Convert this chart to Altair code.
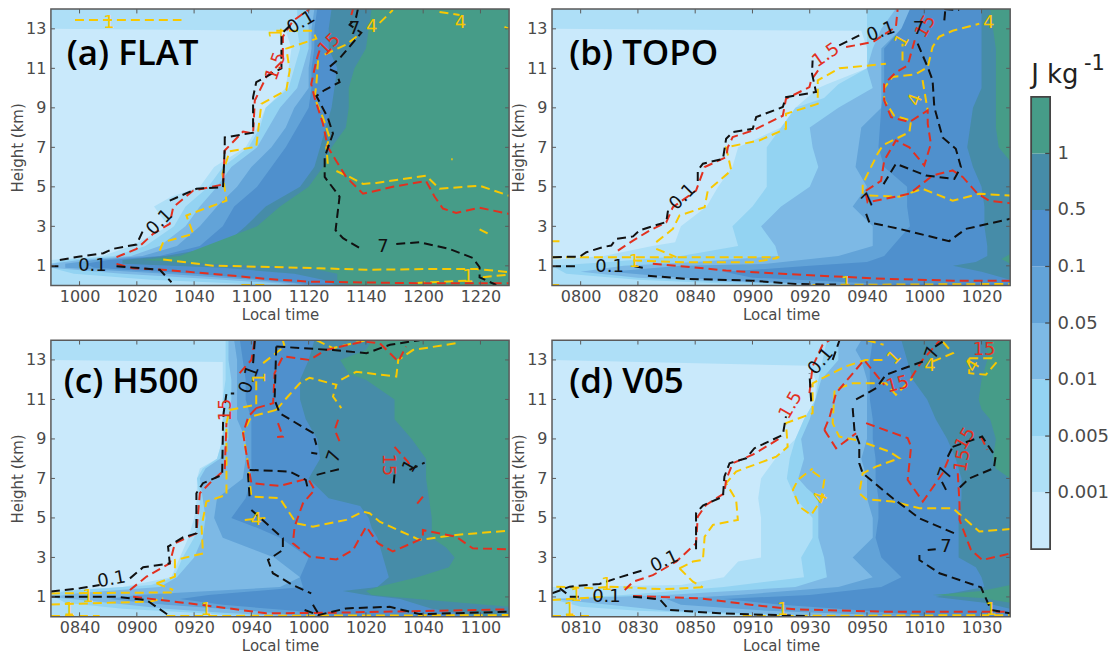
import altair as alt
import pandas as pd

# Shared style values
LEVEL_COLORS = ["#c9e9fb", "#aedff7", "#93d3f2", "#7db9e5", "#62a3d8", "#4f90cd", "#468ca8", "#469c88"]
LINE_COLORS = {"k": "#111111", "r": "#e2301f", "y": "#f8c800"}
CBAR_LABELS = ["", "0.001", "0.005", "0.01", "0.05", "0.1", "0.5", "1"]
X_TICKS = [10, 30, 50, 70, 90, 110, 130, 150]
Y_TICKS = [1, 3, 5, 7, 9, 11, 13]

A_TIMES = ["1000", "1020", "1040", "1100", "1120", "1140", "1200", "1220"]
B_TIMES = ["0800", "0820", "0840", "0900", "0920", "0940", "1000", "1020"]
C_TIMES = ["0840", "0900", "0920", "0940", "1000", "1020", "1040", "1100"]
D_TIMES = ["0810", "0830", "0850", "0910", "0930", "0950", "1010", "1030"]

# Filled contours: each level is (height km, minutes from the panel's left edge)
A_LEVELS = [
    [(14,0),(13,0),(12.9,82),(12,84),(10,82),(9,75),(8,72),(7,68),(6,57),(5,52),(4.5,42),(4,36),(3,41),(2,28),(1.5,18),(1.3,0),(0,0)],
    [(14,86),(13,86),(12,87),(11,85),(10,83),(9,75),(8,73),(7,69),(6,60),(5,55),(4,47),(3,43),(2,33),(1.5,22),(1.3,5),(1.1,0),(0.9,0),(0.6,8),(0.3,35),(0.1,65),(0,75)],
    [(14,90),(13,90),(12,90),(11,88),(10,86),(9,80),(8,76),(7,72),(6,63),(5,58),(4,52),(3,47),(2,38),(1.5,28),(1.3,10),(1.1,0),(0.9,0),(0.6,25),(0.3,60),(0.1,80),(0,85)],
    [(14,92),(13,91),(12,91),(11,90),(10,90),(9,85),(8,82),(7,77),(6,70),(5,65),(4,58),(3,52),(2,44),(1.5,32),(1.3,15),(1.1,5),(0.9,5),(0.6,40),(0.3,70),(0.1,85),(0,90)],
    [(14,93),(13,92),(12,92),(11,91),(10,91),(9,90),(8,86),(7,82),(6,77),(5,72),(4,64),(3,60),(2,52),(1.5,38),(1.3,20),(1.1,12),(0.9,15),(0.6,50),(0.3,75),(0.1,88),(0,95)],
    [(14,98),(13,97),(12,97),(11,100),(10,99),(9,98),(8,96),(7,94),(6,92),(5,87),(4,75),(3,68),(2,60),(1.5,40),(1.3,25),(1.1,25),(0.9,60),(0.6,85),(0.3,95),(0,100)],
    [(14,112),(13,111),(12,110),(11,106),(10,104),(9,104),(8,103),(7,98),(6,95),(5,90),(4,80),(3,72),(2,54),(1.5,45),(1.3,32),(1.1,55),(0.9,90),(0.6,100),(0.3,100),(0,105)],
]
B_LEVELS = [
    [(14,0),(13,0),(12.9,108),(12,110),(11,110),(10.2,96),(10,93),(9,85),(8,80),(7,65),(6,63),(5,58),(4,54),(3,45),(2.2,43),(2,35),(1.5,18),(1.3,0),(0,0)],
    [(14,110),(13,110),(12,110),(11,110),(10.2,100),(9.5,95),(9,85),(8,80),(7,75),(6,75),(5,75),(4,70),(3,63),(2,65),(1.5,45),(1.2,20),(1,0),(0.6,5),(0.3,30),(0.1,60),(0,80)],
    [(14,120),(13,115),(12,112),(11,110),(10,112),(9,100),(8,90),(7,91),(6,93),(5,90),(4,80),(3,73),(2,78),(1.5,79),(1.2,50),(1,25),(0.7,10),(0.4,30),(0.2,60),(0.1,80),(0,100)],
    [(14,127),(13,122),(12,115),(11,115),(10,115),(9,115),(8,108),(7,107),(6,106),(5,110),(4,105),(3,112),(2,112),(1.5,100),(1.1,75),(1,45),(0.7,20),(0.4,45),(0.2,70),(0.1,90),(0,110)],
    [(14,125),(13,122),(12,116),(10,116),(9,115),(7,114),(6,116),(5,124),(4,124),(3,125),(2,119),(1.5,116),(1.2,110),(1,90),(0.7,60),(0.4,70),(0.2,100),(0,125)],
    [(14,150),(12,150),(10,150),(9,147),(8,146),(7,145),(6,147),(5,150),(4,151),(3,151),(2,152),(1.5,152),(1.2,148),(1,140),(0.7,150),(0.3,160),(0,160)],
    [(14,153),(12,155),(10,155),(9,155),(8,155),(7,156),(6.3,160),(1.6,160),(1.35,157),(1.1,160),(0,160)],
]
C_LEVELS = [
    [(14,0),(13,0),(12.9,60),(12,60),(10,60),(9,60),(8,58),(7.5,52),(7,51),(6,51),(5,50),(4,48),(3,45),(2,42),(1.5,25),(1.3,0),(0,0)],
    [(14,61),(13,61),(12,61),(11,60),(10,60),(9,60),(8,58),(7.5,53),(7,51),(6,52),(5,52),(4,50),(3,46),(2,43),(1.6,35),(1.3,5),(1.1,0),(0.7,5),(0.4,25),(0.2,50),(0,70)],
    [(14,62),(13,62),(12,63),(11,63),(10,62),(9,62),(8,59),(7.5,54),(7,52),(6,53),(5,54),(4,53),(3,50),(2,44),(1.5,38),(1.2,10),(1,0),(0.7,20),(0.4,40),(0.2,60),(0,85)],
    [(14,64),(13,65),(12,65),(11,65),(10,65),(9,68),(8,68),(7,67),(6,58),(5,57),(4,60),(3,78),(2,87),(1.5,80),(1.1,30),(0.9,20),(0.6,40),(0.3,70),(0,90)],
    [(14,66),(12,68),(11,68),(10,70),(9,70),(8,70),(7,70),(6,68),(5,63),(4.5,72),(4,80),(3,90),(2,87),(1.5,88),(1.1,55),(0.9,45),(0.6,60),(0.3,85),(0,100)],
    [(14,92),(13,90),(12,87),(11,87),(10,89),(9,93),(8,94),(7,90),(6,97),(5.6,108),(5,111),(4.5,112),(4,114),(3,116),(2,118),(1.5,114),(1.3,102),(1.1,110),(0.9,122),(0.4,133),(0,150)],
    [(14,112),(13.5,110),(13,101),(12.3,104),(12,110),(11,120),(10,120),(9,126),(8,131),(7,131),(6,132),(5,133),(4,133),(3.5,138),(3,141),(2.5,139),(2,128),(1.5,114),(1.3,110),(1.1,112),(0.9,128),(0.5,160),(0,160)],
]
D_LEVELS = [
    [(14,0),(13,0),(12.7,90),(12,92),(11,92),(10,88),(9,85),(8,78),(7,73),(6,72),(5,73),(4,73),(3,73),(2.8,65),(2,60),(1.6,45),(1.5,0),(0,0)],
    [(14,96),(12,93),(11,92),(10,88),(9,85),(8,83),(7,82),(6,85),(5,91),(4,91),(3,87),(2,88),(1.5,60),(1.1,25),(0.9,0),(0.5,10),(0.3,30),(0.1,70),(0,90)],
    [(14,100),(13,100),(12,94),(11,92),(10,90),(9,87),(8,88),(7,86),(6.5,89),(6,93),(5,93),(4,93),(3,95),(2,96),(1.5,85),(1.1,40),(0.9,0),(0.6,20),(0.3,40),(0.1,85),(0,110)],
    [(14,108),(13.5,106),(13,108),(12,110),(11,110),(10,110),(9,110),(8,108),(7,110),(6,110),(5,112),(4,112),(3,105),(2,112),(1.5,100),(1.1,65),(0.9,40),(0.6,45),(0.3,75),(0,130)],
    [(14,112),(13,111),(12,111),(11,111),(10,112),(9,112),(8,113),(7,113),(6,114),(5,114),(4,113),(3,115),(2,122),(1.5,115),(1.1,90),(0.9,60),(0.6,80),(0.3,110),(0,135)],
    [(14,122),(13,124),(12,126),(11,131),(10,134),(9,138),(8,141),(7,143),(6,143),(5,142),(4,142),(3,142),(2.5,148),(2,150),(1.5,151),(1.2,140),(1,134),(0.7,151),(0.4,160),(0,160)],
    [(14,152),(13,152),(12,150),(11,149),(10.5,150),(10,153),(9,155),(8,154),(7.5,155),(7,160),(2.2,160),(1.6,160),(1.3,150),(1.1,133),(0.95,150),(0.7,160),(0,160)],
]

# Dashed contour lines: (minutes, height km)
A_BLACK = [
    [(3.1,1.3),(10.1,1.47),(18.3,1.64),(21.7,1.86),(29.9,2.08),(32.2,2.8)],
    [(41.5,4.3),(50.8,4.9),(60.1,4.98),(60.7,7),(60.7,7.5),(70.6,7.74),(70.6,9.54),(71.7,10.3),(80.5,11),(80.5,12.75),(84.5,13.3)],
    [(107.2,14),(106.6,13.6),(104.3,13.2),(108.4,12.8),(100.8,11.5),(96.7,11),(99.7,10.8),(100.8,10.3),(95.6,9.9),(92.7,9.6),(96.7,8.5),(98.5,7.7),(95.6,6.5),(95.6,5.5),(100.8,4.5),(99.4,2.8),(102,2.4),(109,1.8)],
    [(120.6,2.1),(128.7,2.2),(139.2,1.85),(147.3,1.4),(149.7,0.93),(149.7,0.42),(155.5,0.03)],
    [(0,0.98),(2.6,0.98)],
    [(22.9,0.98),(38,0.8),(42.1,0.17)],
]
A_RED = [
    [(22.9,1.44),(29.9,1.86),(35.7,2.62),(41.5,3.13),(42.7,3.97),(49.7,4.81),(60.1,5.12),(60.7,6.84),(67.1,7.8),(70.6,7.7),(71.2,9.37),(75.2,10.56),(81,11.4),(81,12.6),(84.5,13.4),(90.3,14)],
    [(105.5,14),(104.9,13.7)],
    [(93.8,11.9),(92.7,11.4),(90.9,10.2),(92.1,9.5),(95,8.2),(96.7,7),(99.7,6.3),(103.1,5.5),(109,4.65),(119.4,5),(131,5.3),(134,4.5),(136.9,3.9),(141.5,3.68),(149.7,3.94),(160,3.63)],
    [(22.9,1.1),(28.7,0.88),(40.3,0.79),(56.6,0.59),(75.2,0.34),(90.3,0.2),(127.6,0.12),(160,0.12)],
]
A_GOLD = [
    [(8.4,13.45),(45.6,13.45)],
    [(38,1.77),(39.2,2.2),(49.7,2.62),(47.3,3.55),(61.3,4.3),(59.9,5.66),(62.4,6.8),(71.7,7.03),(73.5,9.2),(82.2,9.9),(83.4,10.9),(82.2,12),(92.7,12.5),(91.5,12.9),(78.7,12.9)],
    [(95.6,11.7),(103.1,12.2),(108.4,12.8)],
    [(114.8,13.3),(119.4,13.95)],
    [(135.7,13.85),(142.7,13.7)],
    [(158.4,13.1),(160,13)],
    [(93.3,11.4),(92.7,10.2),(92.1,9.5),(95,8.5),(97.3,7.5),(96.2,7),(96.7,6.15)],
    [(99.7,5.8),(104.3,5.5),(109,5.15),(113.6,5.2),(131,5.56),(135.7,4.9),(149.7,5.06),(160,4.55)],
    [(149.7,2.85),(153.1,2.6)],
    [(139.8,6.4),(140.3,6.4)],
    [(39.2,1.32),(56.6,1.01),(93.8,0.88),(110,0.8),(133.4,0.84),(148.5,0.84),(160,0.68)],
    [(66.5,0.03),(75,0.03)],
    [(127.6,0.13),(145,0.25)],
    [(150.8,0.42),(160,0.56)],
]
A_TEXT = [
    ("0.1",38,3.2,315,"k"),("0.1",14.5,0.98,0,"k"),("1.5",78.7,11.1,290,"r"),("0.1",87.4,13.3,330,"k"),
    ("15",97.3,12.2,315,"r"),("7",116,1.95,0,"k"),("7",106,13,0,"k"),("4",112,13.1,0,"y"),("4",143,13.3,0,"y"),
    ("1",20.3,13.3,0,"y"),("1",79,12.8,270,"y"),("1",145.6,0.42,0,"y"),
]

B_BLACK = [
    [(0.3,1.44),(9.7,1.47),(12,1.69),(17.8,1.95),(20.7,2.03),(22.4,2.37),(28.3,2.49),(30.6,2.8),(39.9,3.22),(40.5,3.8)],
    [(50.9,5.3),(50.9,5.83),(52.7,6.17),(59.7,6.42),(60.8,7.43),(63.1,7.77),(70.1,7.94),(71.3,8.53),(80.6,9.04),(81.7,9.54),(92.2,9.8),(90.8,10.73),(91,11.4)],
    [(100.3,12.16),(107.3,12.67)],
    [(137,14),(142.2,13.95)],
    [(137,13.43),(137.3,13.9)],
    [(127.7,12.25),(131.2,11.06),(132.9,10.4),(133.5,9.04),(136.4,7.5),(141,6.93),(142.8,6),(140.5,5.4),(130.6,5.57),(120.1,6.17),(115.5,5.07)],
    [(109.7,3.63),(110.8,3.2),(121.3,2.87),(138.7,2.25),(144.5,2.87),(160,3.38)],
    [(0,0.98),(9,0.98)],
    [(28.8,0.98),(31.7,0.9)],
    [(33.5,0.5),(46.9,0.34),(70,0.25),(85,0.08),(99.2,0.05)],
]
B_RED = [
    [(23,1.77),(28.3,2.28),(34.1,2.79),(39.9,3.2),(42.2,3.97),(50.3,4.81),(53.3,6),(60.8,6.5),(61.4,7),(63.1,7.52),(70.1,7.85),(80.6,8.6),(81.7,9.46),(89.9,10.05),(90.5,10.39),(93.4,11)],
    [(102.7,12.08),(112,12.33),(120.1,13.1),(120.7,14)],
    [(109.6,4.65),(110.2,4.22),(116.6,4.4),(124.8,4.65),(130,5.24),(132.9,5.57),(139.9,5.83),(143.4,5.5),(148.6,4.65),(152.7,4.3),(160,4.17)],
    [(109.6,4.8),(114.9,5.3),(116,6.33),(120.1,7.35),(124.8,7),(130,6.08),(132.3,7.18),(131.2,8.2),(131.2,8.87),(124.8,8.28),(118.4,8.53),(116,9.38),(116,10.2),(120.1,10.8),(124.2,11.15),(127,12.6)],
    [(35.2,1.1),(49.2,0.93),(60.8,0.76),(81.7,0.59),(99.2,0.46),(116.6,0.34),(139.9,0.25),(160,0.25)],
]
B_GOLD = [
    [(36.4,2.2),(42.2,2.87),(44.5,3.55),(53.3,3.97),(54.4,4.81),(62.6,5.83),(60.8,7),(72.4,7.35),(81.7,7.94),(81.7,8.7),(92.8,9.2),(92.8,10.39),(100.3,11),(116.6,11.23)],
    [(122.4,11.4),(122.4,12.25)],
    [(108.5,4.65),(108.5,5.15),(113.7,6.67),(115.5,7.1),(124.8,7.77),(125.4,8.36),(119.5,8.6),(116,9.4),(116,10),(118.9,10.56),(127,10.7),(131.2,11.06),(132.9,12.08),(135.2,12.6),(139.9,12.9),(149.2,13.26)],
    [(129.4,10.4),(131.2,8.87)],
    [(110.8,4.56),(121.3,4.5),(129.4,4.9),(139.9,4.3),(149.2,4.65),(160,4.56)],
    [(0,1.44),(79.4,1.44)],
    [(0,2.25),(2.6,2.25)],
    [(28.3,1.27),(46.9,1.18),(70.1,1.18),(78.8,1.4)],
    [(36.4,1.86),(43.4,1.44)],
    [(0,0.03),(2.5,0.03)],
    [(91,0.03),(160,0.08)],
]
B_TEXT = [
    ("0.1",45.7,4.48,315,"k"),("0.1",20.1,0.93,0,"k"),("0.1",114.9,12.84,340,"k"),("1.5",95.7,11.65,325,"r"),
    ("15",130.6,13.1,300,"r"),("7",110.8,4.3,315,"k"),("7",128,13,0,"k"),("4",127,9.4,290,"y"),("4",152.5,13.3,0,"y"),
    ("1",122.4,12.4,300,"y"),("1",102.7,0.1,0,"y"),("1",28.8,1.18,0,"y"),
]

C_BLACK = [
    [(0,1.27),(10.1,1.44),(17,1.6)],
    [(27.6,1.94),(32.2,2.5),(41.5,2.7),(40.9,3.55),(46.2,4.02),(50.8,4.22),(50.8,6.25),(53.1,6.76),(59.8,7.18),(60.1,9.8),(60.3,10.3),(61.3,11.3),(64,11.3)],
    [(70.6,12.84),(71.2,14)],
    [(78.7,13.68),(78.1,10.98),(79.9,10.3),(91.5,9.3),(92.7,8.7)],
    [(90.9,8.3),(93,8.25)],
    [(92.8,7.18),(101.4,7.5)],
    [(69.4,7.43),(83.4,7.35),(89,6.93),(89.8,6.42)],
    [(68.8,7.26),(69.4,6)],
    [(70,5.4),(81,3.97),(81,3.38),(75.8,2.87),(77.5,2.2),(84.5,1.6),(90.9,1.18)],
    [(78.7,13.68),(98.5,13.5),(110.2,13.34),(118.4,13.77),(128.7,14)],
    [(88.6,0.34),(93.3,0.08),(103.1,0.42),(118.3,0.5),(128.7,0.13),(160,0.25)],
    [(91.5,0.6),(93.3,0.17)],
    [(0,1.01),(22.9,1.01),(33.4,0.84),(41.5,0.03)],
    [(125.2,7.43),(130.5,7.8)],
    [(120,7.2),(119.6,6.6)],
]
C_RED = [
    [(27.6,1.35),(33.4,2.03),(41.5,2.7),(43.3,3.72),(50.8,4.22),(52,6.25),(56.6,6.93),(60.7,7.43),(61.3,9.8)],
    [(65.9,12.33),(70,13),(71.2,14)],
    [(71.7,10.56),(69,10.14),(67.1,9.3),(68.8,7.77),(70,6.76),(79.9,6.62),(89.8,7),(92.1,6.42),(88,5.74),(85.1,4.56),(84.5,3.72),(90.3,3.04),(99.7,2.9),(105.5,3.38),(110.1,4.56),(114.2,3.72),(119.4,3.3),(129.9,3.97),(129.9,4.39),(141.5,4.05),(147.3,3.46),(160,3.41)],
    [(71.7,10.56),(77.6,10.81),(78.1,12.33),(81,13.18),(90.3,13),(96,13.5),(109,13.93),(114.8,13.85),(121.3,12.92),(124,13.68)],
    [(100.3,9.97),(99.1,9.46),(100.8,8.87)],
    [(79.3,9.8),(81,9.12),(79,9.1)],
    [(120,8.6),(124.6,7.85),(126.4,7.43)],
    [(129.9,6.08),(127,5.57)],
    [(28.7,1.01),(46.2,0.71),(57.8,0.5),(75.2,0.17),(98.5,0.2),(133.4,0.3),(160,0.37)],
]
C_GOLD = [
    [(36.9,1.69),(43.3,2.03),(43.3,2.87),(53.1,3.2),(52.6,4.56),(54.3,5.83),(61.3,6.17),(61.3,9.8),(62.4,10.47),(71.7,10.73),(71.7,12)],
    [(74.1,12.84),(81.6,13.68),(81,14)],
    [(78.7,10.47),(70,10.14),(67.1,9.3),(68.8,7.77),(70,6.08),(79.9,6),(85.7,4.73),(91.5,4.56),(103.1,4.9),(108.9,5.32),(111.3,5.24),(114.8,4.81),(128.7,3.89),(141.5,4.14),(160,4.36)],
    [(78.7,10.47),(82.2,11.06),(86.9,11.82),(90.3,12.1),(99.7,11.74),(98.5,11.15),(101.4,10.56)],
    [(101.4,12),(106.6,12.4),(120.6,12.16),(121.3,13),(126.4,13.5),(141.5,13.85)],
    [(92.7,14),(98.5,13.6),(110.2,14)],
    [(67.7,4.9),(74.9,5)],
    [(0,1.18),(43.8,1.23)],
    [(0,0.62),(34.5,0.76),(39.2,0.93)],
    [(0,0.03),(17,0.03)],
    [(40.3,0.03),(160,0.08)],
    [(36.9,1.69),(42.7,1.35)],
]
C_TEXT = [
    ("0.1",21.2,1.86,350,"k"),("0.1",69.4,12,290,"k"),("15",61.3,10.47,270,"r"),("15",117.7,7.69,90,"r"),
    ("7",99,8.1,290,"k"),("1",125.5,7.6,300,"k"),("1",13,1.01,0,"y"),("1",6.4,0.35,0,"y"),("1",54.3,0.35,0,"y"),
    ("1",73,12.1,270,"y"),("4",71.7,4.9,0,"y"),
]

D_BLACK = [
    [(0,1.18),(6.2,1.52),(16.6,1.66),(22.4,1.94),(32.9,2.4)],
    [(50.3,3.41),(50.3,5.24),(52.7,5.63),(59.7,6.08),(60.2,7.09),(62,7.77),(67.8,8.02),(70.7,8.53),(80.6,9.2),(81.7,10.14)],
    [(90.5,10.9),(89.9,12.33)],
    [(98,13),(100.4,14)],
    [(105,10.56),(105.6,9.46),(107.3,8.78),(107.3,7.77),(108.5,7.26),(119,6),(128.3,4.98),(140.5,4.22)],
    [(106.2,11),(113.2,11.57),(116.6,12.25),(129.5,12.92)],
    [(136.4,13.93),(133,13.6)],
    [(131.2,3.38),(134,3.42)],
    [(128.3,3.12),(128.3,2.87),(135.3,2.2),(149.8,1.49),(153.3,0.34),(160,0.17)],
    [(139.9,8.6),(150.2,9.12),(154.9,8.1),(154.3,7.52),(145.7,7),(142.1,6.5)],
    [(137.6,6.42),(135.8,6.93)],
    [(138.2,8.1),(139.9,8.6)],
    [(6.2,1.01),(10.8,1.01)],
    [(28.3,1.01),(37.6,0.88),(41,0.34),(58.5,0.17),(89.9,0.03)],
    [(2.7,1.44),(5,1.18)],
]
D_RED = [
    [(25.4,1.35),(28.3,1.77),(35.2,2.1),(43.4,2.79),(50.3,3.72),(50.9,5.07),(53.8,5.66),(60.2,6.25),(60.8,6.93),(63.1,7.77),(70.1,8.2),(80.6,9.12)],
    [(89.9,11.32),(91,12.67),(94.5,13.77),(96.9,14)],
    [(95.1,9.46),(99.2,8.53),(106.2,9.29)],
    [(109.7,9.8),(124.2,9.04),(125.4,8.61),(124.2,6.93),(129.5,5.83),(136.4,7.26),(138.8,8.1)],
    [(95.1,9.46),(97,10.14),(99.2,11.32),(109,13),(116,11.74)],
    [(125.4,12.08),(129.4,13),(135.5,14)],
    [(149.8,9.12),(152,8.45)],
    [(141.7,7.26),(142.3,5.74),(142.3,4.9),(146.3,3.38),(150.3,2.87),(160,3.2)],
    [(28.3,1.05),(51.5,0.93),(70.1,0.59),(85.2,0.37),(116.6,0.25),(160,0.25)],
]
D_GOLD = [
    [(44.5,2.45),(49.2,2.79),(52.7,2.87),(53.3,4.05),(56.2,4.65),(64.9,4.9),(64.3,5.91),(60.8,6.76),(64.3,7.35),(78.3,8.1),(82.3,8.6),(81.7,9.8),(91,10.3),(91,11.82),(102.5,12.67),(109.5,13),(116,13)],
    [(44.5,2.45),(49.2,1.77),(52.7,1.49)],
    [(20.1,1.52),(38.7,1.39),(52.7,1.49)],
    [(0,0.84),(17.8,1.01)],
    [(1.5,1.52),(14.3,1.44),(20.1,1.52)],
    [(0,0.03),(13.7,0.03)],
    [(66.6,0.03),(160,0.08)],
    [(91,7.35),(95.1,6.93),(94,5.91),(90.5,5.15),(86.4,5.57),(84.1,6.42),(85.9,6.93),(91,7.5)],
    [(106.2,8.95),(100.3,9.12),(98,9.8),(98.7,11.49),(105,11.82),(116.6,11.82),(120.1,11.23),(125.9,12.08)],
    [(132.9,12.92),(140,13.34),(136.4,13.93)],
    [(109.7,8.78),(117.8,8.36),(121.3,8.02),(113.1,7.6),(108.5,7.26),(107.3,6.25),(109.7,5.95),(119,5.83),(128.3,5.49),(140,5.49),(149.2,4.31),(160,4.44)],
    [(145.7,13.09),(153.6,13.09),(155,12.84),(151.5,12.25),(145.7,12.33),(145.7,13.09)],
    [(110,14),(115.8,13.77)],
]
D_TEXT = [
    ("0.1",39.3,2.79,335,"k"),("0.1",19,1.01,0,"k"),("0.1",94,12.92,310,"k"),("1.5",83.5,10.7,300,"r"),
    ("15",120.7,11.74,345,"r"),("15",144.5,9.0,300,"r"),("15",143.5,7.9,280,"r"),("15",150.9,13.5,0,"r"),
    ("7",133,13.34,290,"k"),("7",137.6,3.55,0,"k"),("7",137.6,7.26,290,"k"),("4",94,6,290,"y"),("4",132,12.7,0,"y"),("4",147,12.7,300,"y"),
    ("1",119.6,13.1,315,"y"),("1",6.2,0.35,0,"y"),("1",8.5,1.05,0,"y"),("1",19.2,1.6,0,"y"),("1",80.6,0.35,0,"y"),("1",153.3,0.35,0,"y"),
]

PANEL_TITLES = ["(a) FLAT", "(b) TOPO", "(c) H500", "(d) V05"]
TITLE_SPOTS = [(5.5, 11.7), (6, 11.7), (4.5, 11.9), (6, 11.9)]

T_SCALE = alt.Scale(domain=[0, 160], nice=False, zero=False)
H_SCALE = alt.Scale(domain=[0, 14], nice=False, zero=False)
FRAME = "#5a5a5a"
AX = dict(labelFont="DejaVu Sans", labelFontSize=16, labelColor="#4a4a4a", titleFont="DejaVu Sans",
          titleFontSize=15, titleColor="#4a4a4a", titleFontWeight="normal", domain=False, ticks=False, grid=False)


def make_panel(levels, black, red, gold, texts, times, title, spot):
    label_expr = "[" + ",".join(f"'{s}'" for s in times) + "][(datum.value-10)/20]"
    x_axis = alt.Axis(values=X_TICKS, labelExpr=label_expr, title="Local time", labelPadding=3, titlePadding=3, **AX)
    y_axis = alt.Axis(values=Y_TICKS, title="Height (km)", labelPadding=5, titlePadding=0, **AX)
    x = alt.X("t:Q", scale=T_SCALE, axis=x_axis)
    y = alt.Y("h:Q", scale=H_SCALE, axis=y_axis)
    box = pd.DataFrame({"t": [0], "t2": [160], "h": [0], "h2": [14]})
    layers = [alt.Chart(box).mark_rect(color=LEVEL_COLORS[0]).encode(x=x, x2="t2:Q", y=y, y2="h2:Q")]
    for i, lev in enumerate(levels):
        df = pd.DataFrame(sorted(lev), columns=["h", "t"]).assign(r=160)
        layers.append(
            alt.Chart(df).mark_area(orient="horizontal", color=LEVEL_COLORS[i + 1], clip=True)
            .encode(x=x, x2="r:Q", y=y)
        )
    rows = []
    for key, group in (("y", gold), ("r", red), ("k", black)):
        for s, seg in enumerate(group):
            for i, (tv, hv) in enumerate(seg):
                rows.append(dict(t=tv, h=hv, seg=f"{key}{s}", i=i, col=LINE_COLORS[key]))
    layers.append(
        alt.Chart(pd.DataFrame(rows)).mark_line(strokeWidth=2, strokeDash=[9, 5], clip=True)
        .encode(x=x, y=y, color=alt.Color("col:N", scale=None), detail="seg:N", order="i:Q")
    )
    tdf = pd.DataFrame([dict(s=a, t=b, h=c, ang=d, col=LINE_COLORS[e]) for a, b, c, d, e in texts])
    layers.append(
        alt.Chart(tdf).mark_text(font="DejaVu Sans", fontSize=18, baseline="middle", align="center", clip=True)
        .encode(x=x, y=y, text="s:N", angle=alt.Angle("ang:Q", scale=None), color=alt.Color("col:N", scale=None))
    )
    ticks = [dict(t=v, t2=v, h=0, h2=0.22) for v in X_TICKS] + [dict(t=v, t2=v, h=13.78, h2=14) for v in X_TICKS]
    ticks += [dict(t=0, t2=1.4, h=v, h2=v) for v in Y_TICKS] + [dict(t=158.6, t2=160, h=v, h2=v) for v in Y_TICKS]
    layers.append(
        alt.Chart(pd.DataFrame(ticks)).mark_rule(color=FRAME, strokeWidth=1)
        .encode(x=x, x2="t2:Q", y=y, y2="h2:Q")
    )
    layers.append(
        alt.Chart(box).mark_rect(filled=False, stroke=FRAME, strokeWidth=1.5)
        .encode(x=x, x2="t2:Q", y=y, y2="h2:Q")
    )
    tp = pd.DataFrame({"t": [spot[0]], "h": [spot[1]], "s": [title]})
    layers.append(
        alt.Chart(tp).mark_text(font="Open Sans", fontSize=35, fontWeight=600, align="left", baseline="middle", color="#000000")
        .encode(x=x, y=y, text="s:N")
    )
    return alt.layer(*layers).properties(width=459, height=277)


a = make_panel(A_LEVELS, A_BLACK, A_RED, A_GOLD, A_TEXT, A_TIMES, PANEL_TITLES[0], TITLE_SPOTS[0])
b = make_panel(B_LEVELS, B_BLACK, B_RED, B_GOLD, B_TEXT, B_TIMES, PANEL_TITLES[1], TITLE_SPOTS[1])
c = make_panel(C_LEVELS, C_BLACK, C_RED, C_GOLD, C_TEXT, C_TIMES, PANEL_TITLES[2], TITLE_SPOTS[2])
d = make_panel(D_LEVELS, D_BLACK, D_RED, D_GOLD, D_TEXT, D_TIMES, PANEL_TITLES[3], TITLE_SPOTS[3])

# Colour bar
cb = pd.DataFrame({"lo": list(range(8)), "hi": list(range(1, 9)), "col": LEVEL_COLORS, "x0": 0, "x1": 1})
CY = alt.Scale(domain=[0, 541 / 453 * 8], nice=False, zero=False)
CX = alt.Scale(domain=[0, 1], nice=False)
cb_expr = "[" + ",".join(f"'{s}'" for s in CBAR_LABELS) + "][datum.value]"
cb_axis = alt.Axis(values=list(range(1, 8)), labelExpr=cb_expr, orient="right", title=None, domain=False, ticks=False,
                   grid=False, labelFont="DejaVu Sans", labelFontSize=18, labelColor="#4a4a4a", labelPadding=7)
cx = alt.X("x0:Q", scale=CX, axis=None)
cb_rects = alt.Chart(cb).mark_rect().encode(
    x=cx, x2="x1:Q", y=alt.Y("lo:Q", scale=CY, axis=cb_axis), y2="hi:Q", color=alt.Color("col:N", scale=None))
cb_ticks = alt.Chart(pd.DataFrame({"lo": list(range(1, 8)), "x0": 0.74, "x1": 1})).mark_rule(color="#444444", strokeWidth=1.2).encode(
    x=cx, x2="x1:Q", y=alt.Y("lo:Q", scale=CY, axis=cb_axis))
cb_frame = alt.Chart(pd.DataFrame({"x0": [0], "x1": [1], "lo": [0], "hi": [8]})).mark_rect(filled=False, stroke="#444444", strokeWidth=1.8).encode(
    x=cx, x2="x1:Q", y=alt.Y("lo:Q", scale=CY, axis=cb_axis), y2="hi:Q")
cb_unit = alt.Chart(pd.DataFrame({"s": ["J kg"]})).mark_text(font="DejaVu Sans", fontSize=26, align="left", baseline="alphabetic", color="#222222").encode(
    x=alt.value(0), y=alt.value(74), text="s:N")
cb_exp = alt.Chart(pd.DataFrame({"s": ["-1"]})).mark_text(font="DejaVu Sans", fontSize=21, align="left", baseline="alphabetic", color="#222222").encode(
    x=alt.value(53), y=alt.value(61), text="s:N")
cbar = alt.layer(cb_rects, cb_ticks, cb_frame, cb_unit, cb_exp).properties(width=19, height=541)

grid = alt.vconcat(alt.hconcat(a, b, spacing=1), alt.hconcat(c, d, spacing=1), spacing=16.7)
chart = (
    alt.hconcat(grid, cbar, spacing=19)
    .properties(padding={"left": 2, "top": -0.5, "right": 0, "bottom": 0}, background="#ffffff")
    .configure_view(stroke=None)
)
chart.save("out.html", embed_options={"renderer": "svg", "actions": False})
